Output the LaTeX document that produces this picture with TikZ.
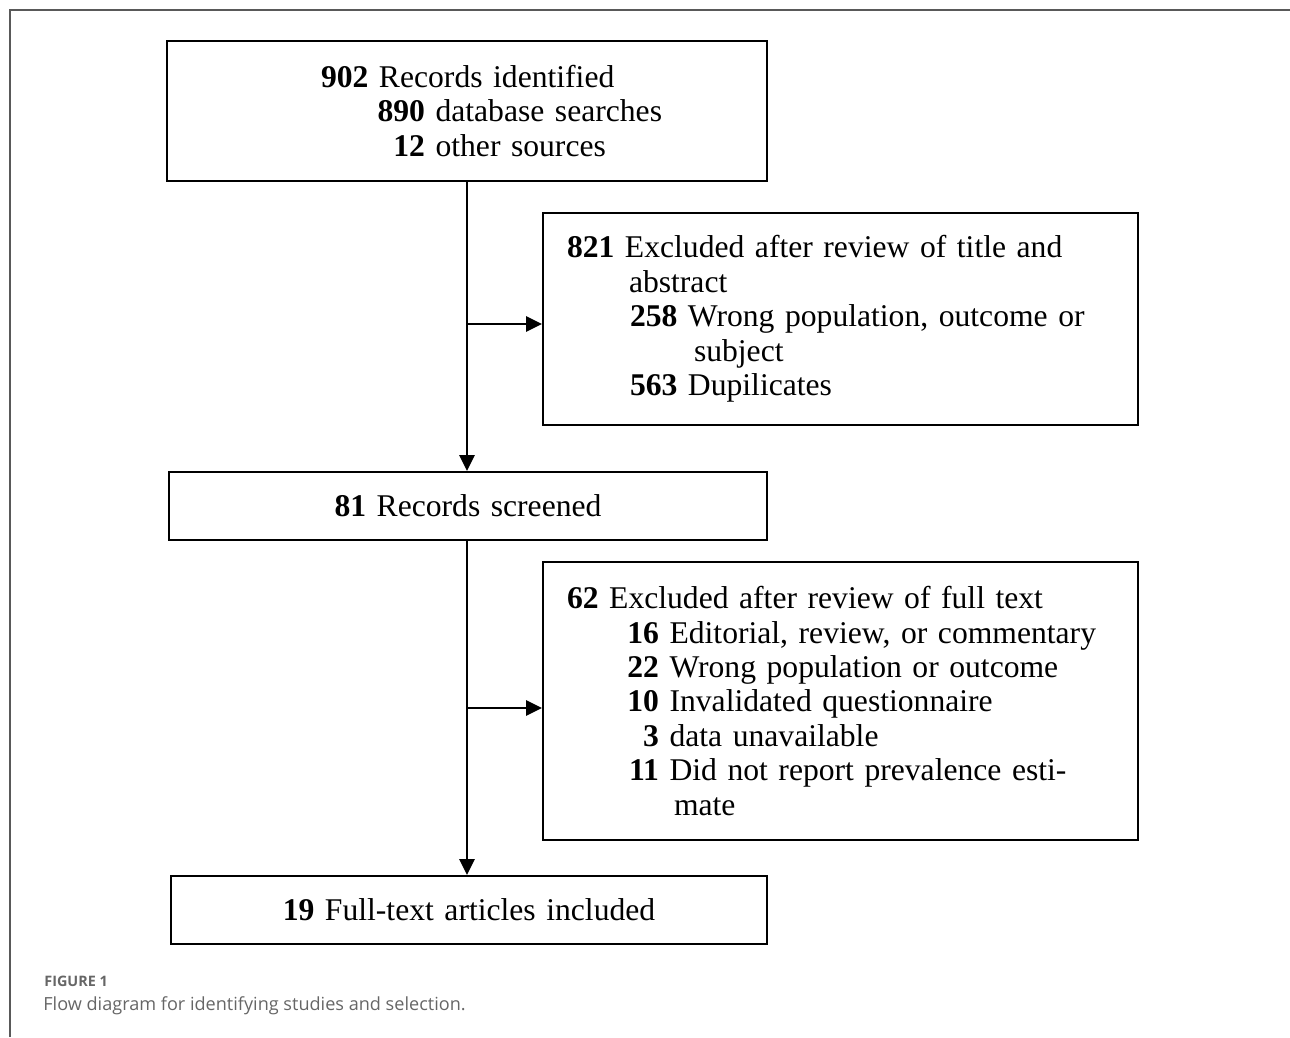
\documentclass[tikz,border=0pt]{standalone}
\usepackage{fontspec}
\setmainfont[WordSpace=0.7]{Liberation Serif}
\newfontfamily\capfont{Open Sans}
\usetikzlibrary{arrows.meta}
\newlength\pxu
\setlength\pxu{0.02cm}

\begin{document}
\begin{tikzpicture}[x=0.02cm,y=-0.02cm,
    box/.style={draw,line width=2\pxu,rectangle,anchor=north west,
        inner xsep=24\pxu,inner ysep=0pt,align=left,
        font=\fontsize{18}{19.6}\selectfont},
    flow/.style={line width=2\pxu,-{Triangle[length=9pt,width=8.6pt]}},
    frame/.style={draw=black!65,line width=1.5\pxu},
    caption/.style={anchor=base west,text=black!60,inner sep=0pt},]
    \useasboundingbox (0,0) rectangle (1290,1037);
    \draw[frame] (10,1037) -- (10,10) -- (1290,10);

    \node[box,minimum width=600\pxu,minimum height=140\pxu,text width=552\pxu]
        (ident) at (166,40) {%
        \hspace*{130\pxu}\textbf{902} Records identified\\
        \hspace*{185\pxu}\makebox[49\pxu][r]{\textbf{890}} database searches\\
        \hspace*{185\pxu}\makebox[49\pxu][r]{\textbf{12}} other sources};
    \node[box,minimum width=595\pxu,minimum height=212\pxu,text width=547\pxu]
        (exclA) at (542,212) {%
        \textbf{821} Excluded after review of title and\\
        \hspace*{62\pxu}abstract\\
        \hspace*{63\pxu}\textbf{258} Wrong population, outcome or\\
        \hspace*{127\pxu}subject\\
        \hspace*{63\pxu}\textbf{563} Dupilicates};
    \node[box,align=center,minimum width=598\pxu,minimum height=68\pxu,text width=550\pxu]
        (screen) at (168,471) {\textbf{81} Records screened};
    \node[box,minimum width=595\pxu,minimum height=278\pxu,text width=547\pxu]
        (exclB) at (542,561) {%
        \textbf{62} Excluded after review of full text\\
        \hspace*{66\pxu}\makebox[26\pxu][r]{\textbf{16}} Editorial, review, or commentary\\
        \hspace*{66\pxu}\makebox[26\pxu][r]{\textbf{22}} Wrong population or outcome\\
        \hspace*{66\pxu}\makebox[26\pxu][r]{\textbf{10}} Invalidated questionnaire\\
        \hspace*{66\pxu}\makebox[26\pxu][r]{\textbf{3}} data unavailable\\
        \hspace*{66\pxu}\makebox[26\pxu][r]{\textbf{11}} Did not report prevalence esti-\\
        \hspace*{107\pxu}mate};
    \node[box,align=center,minimum width=596\pxu,minimum height=68\pxu,text width=548\pxu]
        (incl) at (170,875) {\textbf{19} Full-text articles included};

    \coordinate (splitA) at (467,324);
    \coordinate (splitB) at (467,708);
    \draw[flow] (ident.south -| splitA) -- (screen.north -| splitA);
    \draw[flow] (splitA) -- (splitA -| exclA.west);
    \draw[flow] (screen.south -| splitB) -- (incl.north -| splitB);
    \draw[flow] (splitB) -- (splitB -| exclB.west);

    \node[caption] (figlabel) at (44,986) {\capfont\fontsize{8.2}{9}\selectfont\bfseries FIGURE 1};
    \node[caption] (figtext) at (43,1010) {\capfont\fontsize{10.3}{12}\selectfont Flow diagram for identifying studies and selection.};
\end{tikzpicture}
\end{document}
